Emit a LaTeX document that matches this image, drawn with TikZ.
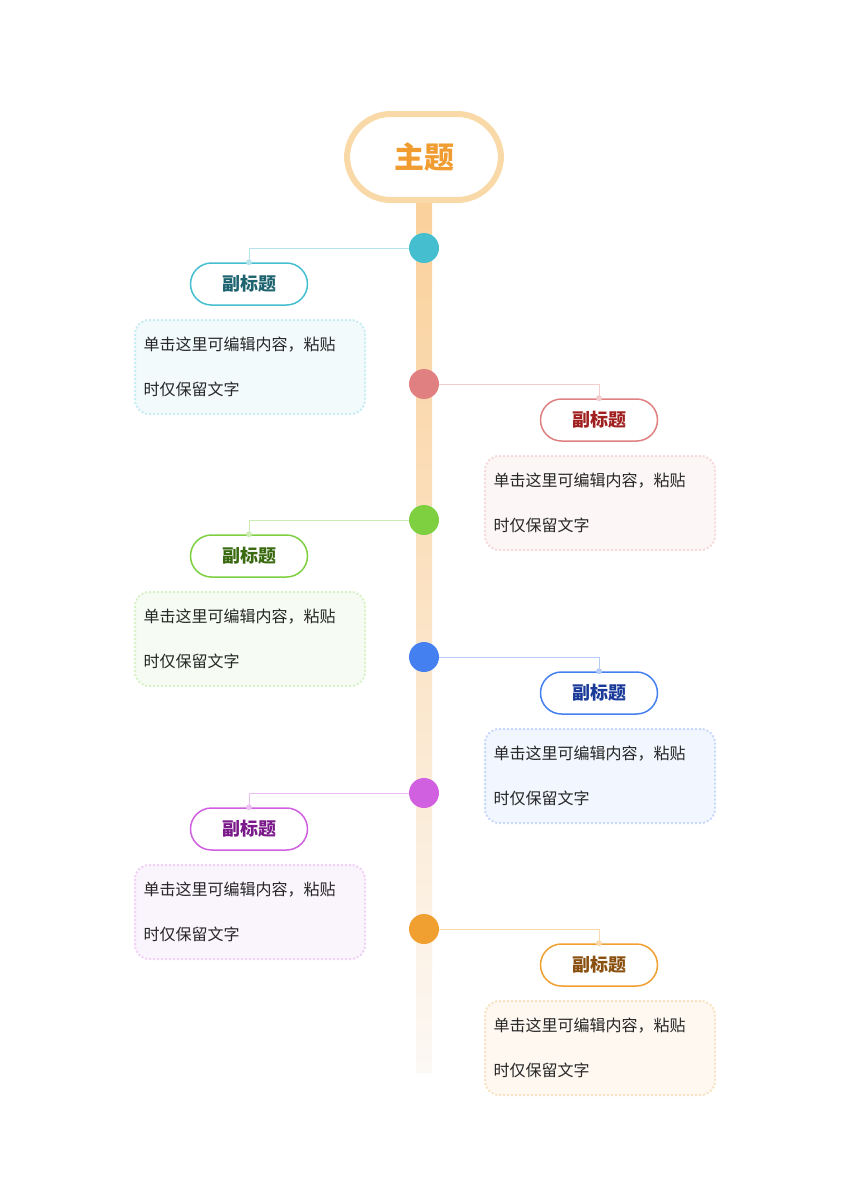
\documentclass[tikz,border=0pt]{standalone}
\usepackage{fontspec}
\setmainfont{Noto Sans CJK SC}
\usetikzlibrary{shadings}
\begin{document}
\begin{tikzpicture}[x=1pt,y=-1pt,
 pill/.style={draw=#1,line width=1.5pt,rounded corners=21pt,minimum width=117pt,minimum height=42pt,fill=white,font=\fontsize{18}{20}\selectfont\bfseries},
 body/.style={draw=#1,line width=2pt,dotted,rounded corners=14pt,minimum width=230pt,minimum height=94pt},
 dotn/.style={circle,fill=#1,minimum size=30pt,inner sep=0pt},
 conn/.style={draw=#1,line width=0.8pt},
 txt/.style={font=\fontsize{16}{16}\selectfont,text=black!85,anchor=west}]
\useasboundingbox (0,0) rectangle (848,1200);
\fill[top color={rgb,255:red,250;green,208;blue,154},bottom color={rgb,255:red,252;green,248;blue,244}] (416,195) rectangle (432,1072);
\node[draw={rgb,255:red,250;green,217;blue,168},line width=6pt,rounded corners=44pt,minimum width=154pt,minimum height=86pt,fill=white,text={rgb,255:red,240;green,156;blue,48},font=\fontsize{30}{32}\selectfont\bfseries] (main) at (424,157) {主题};
\foreach \i/\y/\side/\c/\t/\bf in {1/248/L/45BFCF/1E6470/F2FAFC,2/384/R/E08080/A02020/FCF6F6,3/520/L/7ED040/3A6A10/F6FCF3,4/657/R/4580F0/1A3A9A/F2F6FE,5/793/L/D060E0/7A1A8A/FAF4FC,6/929/R/F0A030/8A5010/FEF8F1}{
 \definecolor{cc}{HTML}{\c}\definecolor{tc}{HTML}{\t}\definecolor{bc}{HTML}{\bf}
 \if L\side \def\px{249}\def\bx{250}\else \def\px{599}\def\bx{600}\fi
 \node[pill=cc,text=tc] (p\i) at (\px,\y+36) {副标题};
 \draw[conn=cc!40] (424,\y) -- (\px,\y) -- (p\i.north);
 \node[dotn=cc] (d\i) at (424,\y) {};
 \fill[cc!40] (p\i.north) circle (3pt);
 \node[body=cc!30,fill=bc] (b\i) at (\bx,\y+119) {};
 \node[txt] (t\i) at ([xshift=6pt,yshift=22pt]b\i.west) {单击这里可编辑内容，粘贴};
 \node[txt] (u\i) at ([xshift=6pt,yshift=-22pt]b\i.west) {时仅保留文字};
}
\end{tikzpicture}
\end{document}
